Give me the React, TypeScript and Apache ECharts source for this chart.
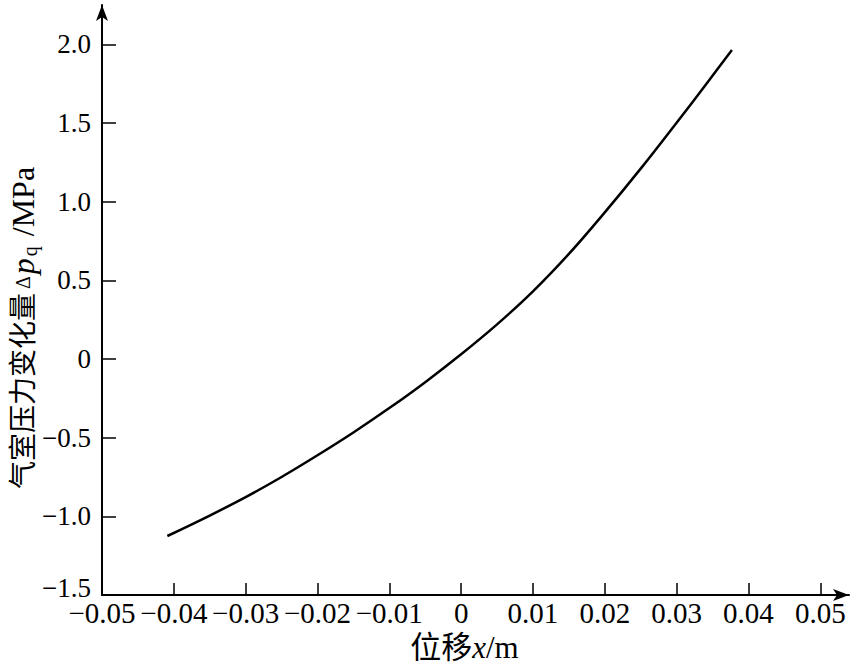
import React, { useEffect, useRef } from "react";
import * as echarts from "echarts";

const xValues = [-0.0409, -0.035, -0.03, -0.025, -0.02, -0.015, -0.01, -0.005, 0, 0.005, 0.01, 0.015, 0.02, 0.025, 0.03, 0.0345, 0.0377];
const yValues = [-1.125, -0.995, -0.878, -0.75, -0.612, -0.467, -0.312, -0.147, 0.03, 0.22, 0.43, 0.668, 0.932, 1.21, 1.502, 1.77, 1.964];
const xTicks = [-0.05, -0.04, -0.03, -0.02, -0.01, 0, 0.01, 0.02, 0.03, 0.04, 0.05];
const yTicks = [-1.5, -1.0, -0.5, 0, 0.5, 1.0, 1.5, 2.0];

const SERIF = "'Liberation Serif', 'Times New Roman', 'Noto Sans CJK SC', serif";

export default function App() {
  const ref = useRef<HTMLDivElement>(null);
  useEffect(() => {
    document.body.style.margin = "0";
    const chart = echarts.init(ref.current!, null, { renderer: "svg" });
    const axisLine = { show: true, onZero: false, lineStyle: { color: "#000", width: 2 }, symbol: ["none", "arrow"], symbolSize: [9, 16] };
    chart.setOption({
      animation: false,
      backgroundColor: "#fff",
      grid: { left: 102, right: 1, top: 5, bottom: 69, containLabel: false, outerBoundsMode: "none" },
      xAxis: {
        type: "value",
        min: -0.05,
        max: 0.054,
        interval: 0.01,
        splitLine: { show: false },
        axisLine,
        axisTick: { show: true, inside: true, length: 12, lineStyle: { color: "#000", width: 1.5 }, customValues: xTicks },
        axisLabel: {
          customValues: xTicks,
          color: "#000",
          fontFamily: SERIF,
          fontSize: 29,
          margin: 3,
          formatter: (v: number) => (Math.abs(v) < 1e-9 ? "0" : v.toFixed(2).replace("-", "−")),
        },
        name: "{a|位移}{i|x}{a|/m}",
        nameLocation: "middle",
        nameGap: 37,
        nameMoveOverlap: false,
        nameTextStyle: {
          padding: [0, 22, 0, 0],
          rich: {
            a: { fontFamily: SERIF, fontSize: 31, color: "#000" },
            i: { fontFamily: SERIF, fontSize: 31, fontStyle: "italic", color: "#000" },
          },
        },
      },
      yAxis: {
        type: "value",
        min: -1.5,
        max: 2.25,
        interval: 0.5,
        splitLine: { show: false },
        axisLine,
        axisTick: { show: true, inside: true, length: 14, lineStyle: { color: "#000", width: 1.5 }, customValues: yTicks },
        axisLabel: {
          customValues: yTicks,
          color: "#000",
          fontFamily: SERIF,
          fontSize: 27,
          margin: 11,
          formatter: (v: number) => {
            const s = Math.abs(v) < 1e-9 ? "0" : v.toFixed(1).replace("-", "−");
            return Math.abs(v + 1.5) < 1e-9 ? "{up|" + s + "}" : s;
          },
          rich: {
            up: { fontFamily: SERIF, fontSize: 27, color: "#000", padding: [0, 0, 14, 0] },
          },
        },
        name: "{a|气室压力变化量}{d|Δ}{i|p}{s|q}{l| /MPa}",
        nameLocation: "middle",
        nameGap: 62,
        nameMoveOverlap: false,
        nameTextStyle: {
          padding: [0, 56, 0, 0],
          rich: {
            a: { fontFamily: SERIF, fontSize: 28, color: "#000" },
            d: { fontFamily: SERIF, fontSize: 20, color: "#000", padding: [0, 2, 0, 4] },
            i: { fontFamily: SERIF, fontSize: 32, fontStyle: "italic", color: "#000", padding: [0, 2, 0, 0] },
            s: { fontFamily: SERIF, fontSize: 20, color: "#000", padding: [14, 2, 0, 0] },
            l: { fontFamily: SERIF, fontSize: 32, color: "#000" },
          },
        },
      },
      series: [
        {
          type: "line",
          data: xValues.map((x, i) => [x, yValues[i]]),
          smooth: 0.4,
          showSymbol: false,
          lineStyle: { color: "#000", width: 2.5 },
        },
      ],
    });
    return () => chart.dispose();
  }, []);
  return <div ref={ref} style={{ position: "absolute", left: 0, top: 0, width: 850, height: 664 }} />;
}
